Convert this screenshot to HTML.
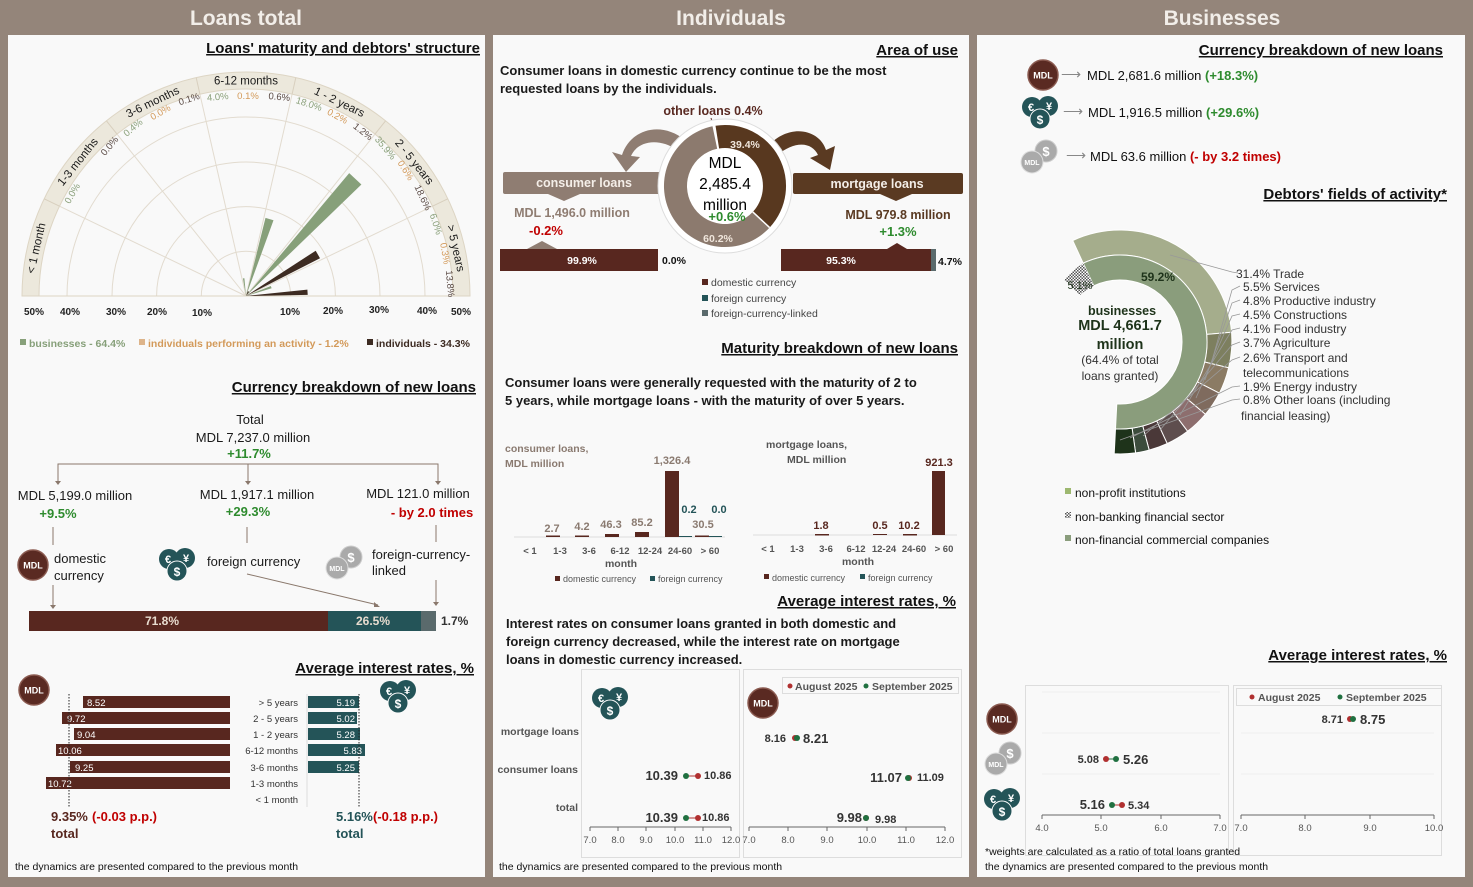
<!DOCTYPE html>
<html><head><meta charset="utf-8"><style>
html,body{margin:0;padding:0;background:#94857a;}
svg{display:block;font-family:"Liberation Sans",sans-serif;}
.t{font-weight:bold;fill:#1a1a1a;}
.ttl{font-weight:bold;font-size:15px;fill:#111;text-decoration:underline;}
.hd{font-weight:bold;font-size:21px;fill:#f2eee9;}
.g{fill:#2e8b2e;font-weight:bold;}
.r{fill:#c00000;font-weight:bold;}
</style></head><body>
<svg width="1473" height="887" viewBox="0 0 1473 887" xmlns="http://www.w3.org/2000/svg">
<defs>
<pattern id="hat" width="3" height="3" patternUnits="userSpaceOnUse"><rect width="3" height="3" fill="#fff"/><rect width="1.5" height="1.5" fill="#555"/><rect x="1.5" y="1.5" width="1.5" height="1.5" fill="#555"/></pattern>
<g id="mdl"><circle r="15" fill="#5a2a22" stroke="#8a5a50" stroke-width="1.5"/><text y="3.5" text-anchor="middle" font-size="9" font-weight="bold" fill="#fff">MDL</text></g>
<g id="fx"><circle cx="-8" cy="-4" r="10" fill="#245458"/><circle cx="8" cy="-5" r="10" fill="#245458"/><circle cx="0" cy="8" r="10" fill="#245458" stroke="#f9f9f9" stroke-width="1"/><text x="-9" y="0" text-anchor="middle" font-size="11" font-weight="bold" fill="#fff">€</text><text x="9" y="-1" text-anchor="middle" font-size="11" font-weight="bold" fill="#fff">¥</text><text x="0" y="13" text-anchor="middle" font-size="12" font-weight="bold" fill="#fff">$</text></g>
<g id="lnk"><circle cx="8" cy="-6" r="11" fill="#aaa" stroke="#ccc"/><text x="8" y="-1" text-anchor="middle" font-size="13" font-weight="bold" fill="#fff">$</text><circle cx="-6" cy="5" r="11" fill="#aaa" stroke="#ddd"/><text x="-6" y="8" text-anchor="middle" font-size="7" font-weight="bold" fill="#fff">MDL</text></g>
</defs>

<text class="hd" x="246" y="25" text-anchor="middle">Loans total</text>
<text class="hd" x="731" y="25" text-anchor="middle">Individuals</text>
<text class="hd" x="1222" y="25" text-anchor="middle">Businesses</text>

<rect x="8" y="35" width="477" height="842" fill="#f9f9f9"/>
<rect x="493" y="35" width="476" height="842" fill="#f9f9f9"/>
<rect x="977" y="35" width="488" height="842" fill="#f9f9f9"/>

<!-- ============ PANEL 1 ============ -->
<text class="ttl" x="480" y="53" text-anchor="end">Loans' maturity and debtors' structure</text>
<path d="M22,296 A224,224 0 0 1 470,296 L453,296 A207,207 0 0 0 39,296 Z" fill="#ece8dc" stroke="#ddd5c4"/>
<g fill="none" stroke="#e2dbcf" stroke-width="1">
<path d="M201.3,296 A44.7,44.7 0 0 1 290.7,296"/>
<path d="M156.6,296 A89.4,89.4 0 0 1 335.4,296"/>
<path d="M112,296 A134,134 0 0 1 380,296"/>
<path d="M67,296 A179,179 0 0 1 425,296"/>
<line x1="246" y1="296" x2="432.5" y2="206.2"/><line x1="246" y1="296" x2="375" y2="134.1"/>
<line x1="246" y1="296" x2="292.1" y2="94.2"/><line x1="246" y1="296" x2="199.9" y2="94.2"/>
<line x1="246" y1="296" x2="117" y2="134.1"/><line x1="246" y1="296" x2="59.5" y2="206.2"/>
<line x1="22" y1="296" x2="470" y2="296" stroke="#ddd5c4"/>
</g>
<g stroke="#d8cfbe" stroke-width="1">
<line x1="432.5" y1="206.2" x2="447.8" y2="198.8"/><line x1="375" y1="134.1" x2="385.6" y2="120.8"/>
<line x1="292.1" y1="94.2" x2="295.8" y2="77.6"/><line x1="199.9" y1="94.2" x2="196.2" y2="77.6"/>
<line x1="117" y1="134.1" x2="106.4" y2="120.8"/><line x1="59.5" y1="206.2" x2="44.2" y2="198.8"/>
</g>
<polygon points="246,296 271.6,288.2 270.8,286" fill="#87a07a"/>
<polygon points="246,296 307.7,294.9 307.4,289.6" fill="#3d2b22"/>
<polygon points="246,296 361.4,184.5 349.2,173.1" fill="#87a07a"/>
<polygon points="246,296 320,258.3 315.7,250.7" fill="#3d2b22"/>
<polygon points="246,296 273.5,220.3 265.5,217.9" fill="#87a07a"/>
<polygon points="246,296 249,292 248,291" fill="#3d2b22"/>
<polygon points="246,296 244.4,278.2 242.9,278.4" fill="#87a07a"/>
<g font-size="11.5" fill="#1a1a1a" text-anchor="middle">
<text transform="translate(35.9,248.1) rotate(-77.14)" y="4">&lt; 1 month</text>
<text transform="translate(77.5,161.7) rotate(-51.43)" y="4">1-3 months</text>
<text transform="translate(152.5,101.8) rotate(-25.71)" y="4">3-6 months</text>
<text transform="translate(246,80.5)" y="4">6-12 months</text>
<text transform="translate(339.5,101.8) rotate(25.71)" y="4">1 - 2 years</text>
<text transform="translate(414.5,161.7) rotate(51.43)" y="4">2 - 5 years</text>
<text transform="translate(456.1,248.1) rotate(77.14)" y="4">&gt; 5 years</text>
</g>
<g font-size="9.5" text-anchor="middle">
<text transform="translate(75,195) rotate(-60)" fill="#8aa07a">0.0%</text>
<text transform="translate(112,148) rotate(-50)" fill="#5a4a44">0.0%</text>
<text transform="translate(135,130) rotate(-40)" fill="#8aa07a">0.4%</text>
<text transform="translate(162,115) rotate(-30)" fill="#d39a5a">0.0%</text>
<text transform="translate(190,102) rotate(-18)" fill="#5a4a44">0.1%</text>
<text transform="translate(218,100) rotate(-5)" fill="#8aa07a">4.0%</text>
<text transform="translate(248,99)" fill="#d39a5a">0.1%</text>
<text transform="translate(279,100) rotate(5)" fill="#5a4a44">0.6%</text>
<text transform="translate(308,107) rotate(18)" fill="#8aa07a">18.0%</text>
<text transform="translate(336,119) rotate(28)" fill="#d39a5a">0.2%</text>
<text transform="translate(361,134) rotate(38)" fill="#5a4a44">1.2%</text>
<text transform="translate(383,150) rotate(50)" fill="#8aa07a">35.9%</text>
<text transform="translate(403,172) rotate(58)" fill="#d39a5a">0.6%</text>
<text transform="translate(420,199) rotate(65)" fill="#5a4a44">18.6%</text>
<text transform="translate(433,225) rotate(72)" fill="#8aa07a">6.0%</text>
<text transform="translate(442,254) rotate(80)" fill="#d39a5a">0.3%</text>
<text transform="translate(447,284) rotate(85)" fill="#5a4a44">13.8%</text>
</g>
<g font-size="10" font-weight="bold" fill="#222" text-anchor="middle">
<text x="34" y="315">50%</text><text x="70" y="315">40%</text><text x="116" y="315">30%</text><text x="157" y="315">20%</text><text x="202" y="316">10%</text>
<text x="290" y="315">10%</text><text x="333" y="314">20%</text><text x="379" y="313">30%</text><text x="427" y="314">40%</text><text x="461" y="315">50%</text>
</g>
<g font-size="10.5" font-weight="bold">
<rect x="20" y="339" width="6" height="6" fill="#87a07a"/><text x="29" y="347" fill="#87a07a">businesses - 64.4%</text>
<rect x="139" y="339" width="6" height="6" fill="#ddb48a"/><text x="148" y="347" fill="#d39a5a">individuals performing an activity - 1.2%</text>
<rect x="367" y="339" width="6" height="6" fill="#3d2b22"/><text x="376" y="347" fill="#3d2b22">individuals - 34.3%</text>
</g>

<text class="ttl" x="476" y="392" text-anchor="end">Currency breakdown of new loans</text>
<g font-size="13" text-anchor="middle" fill="#1a1a1a">
<text x="250" y="424">Total</text>
<text x="253" y="442">MDL 7,237.0 million</text>
<text x="249" y="458" class="g">+11.7%</text>
<text x="75" y="500">MDL 5,199.0 million</text>
<text x="58" y="518" class="g">+9.5%</text>
<text x="257" y="499">MDL 1,917.1 million</text>
<text x="248" y="516" class="g">+29.3%</text>
<text x="418" y="498">MDL 121.0 million</text>
<text x="432" y="517" class="r">- by 2.0 times</text>
</g>
<g stroke="#8a786c" stroke-width="1" fill="none">
<polyline points="58,483 58,464 438,464 438,483"/><line x1="248" y1="464" x2="248" y2="484"/>
<line x1="53" y1="527" x2="53" y2="545"/><line x1="247" y1="527" x2="247" y2="543"/><line x1="436" y1="525" x2="436" y2="542"/>
<line x1="53" y1="585" x2="53" y2="607"/><line x1="247" y1="574" x2="378" y2="605"/><line x1="436" y1="580" x2="436" y2="604"/>
</g>
<g fill="#8a786c"><path d="M55,481 L61,481 L58,485Z"/><path d="M245,481 L251,481 L248,485Z"/><path d="M435,481 L441,481 L438,485Z"/><path d="M50,605 L56,605 L53,609Z"/><path d="M374,602 L380,607 L374,607Z"/><path d="M433,602 L439,602 L436,606Z"/></g>
<use href="#mdl" x="33" y="565"/><use href="#fx" x="177" y="563"/><use href="#lnk" x="343" y="563"/>
<g font-size="13" fill="#1a1a1a">
<text x="54" y="563">domestic</text><text x="54" y="580">currency</text>
<text x="207" y="566">foreign currency</text>
<text x="372" y="559">foreign-currency-</text><text x="372" y="575">linked</text>
</g>
<rect x="29" y="611" width="299" height="20" fill="#58271f"/><rect x="328" y="611" width="93" height="20" fill="#245458"/><rect x="421" y="611" width="15" height="20" fill="#5a6a6c"/>
<g font-size="12" font-weight="bold"><text x="162" y="625" fill="#e8dccf" text-anchor="middle">71.8%</text><text x="373" y="625" fill="#e8dccf" text-anchor="middle">26.5%</text><text x="441" y="625" fill="#333">1.7%</text></g>

<text class="ttl" x="474" y="673" text-anchor="end">Average interest rates, %</text>
<use href="#mdl" x="34" y="690"/><use href="#fx" x="398" y="695"/>
<g fill="#58271f">
<rect x="83" y="696" width="147" height="12"/><rect x="62" y="712" width="168" height="12"/><rect x="74" y="728" width="156" height="12"/>
<rect x="56" y="744" width="174" height="12"/><rect x="70" y="761" width="160" height="12"/><rect x="46" y="777" width="184" height="12"/>
</g>
<g fill="#245458">
<rect x="308" y="696" width="51" height="12"/><rect x="308" y="712" width="49" height="12"/><rect x="308" y="728" width="52" height="12"/>
<rect x="308" y="744" width="57" height="12"/><rect x="308" y="761" width="51" height="12"/>
</g>
<g font-size="9.5" fill="#fff">
<text x="87" y="706">8.52</text><text x="67" y="722">9.72</text><text x="77" y="738">9.04</text><text x="58" y="754">10.06</text><text x="75" y="771">9.25</text><text x="48" y="787">10.72</text>
<g text-anchor="end"><text x="355" y="706">5.19</text><text x="355" y="722">5.02</text><text x="355" y="738">5.28</text><text x="362" y="754">5.83</text><text x="355" y="771">5.25</text></g>
</g>
<line x1="69" y1="694" x2="69" y2="807" stroke="#222" stroke-dasharray="1.5,1.5"/>
<line x1="359" y1="694" x2="359" y2="807" stroke="#222" stroke-dasharray="1.5,1.5"/>
<line x1="307" y1="694" x2="307" y2="807" stroke="#ddd"/>
<g font-size="9.5" fill="#333" text-anchor="end">
<text x="298" y="706">&gt; 5 years</text><text x="298" y="722">2 - 5 years</text><text x="298" y="738">1 - 2 years</text><text x="298" y="754">6-12 months</text><text x="298" y="771">3-6 months</text><text x="298" y="787">1-3 months</text><text x="298" y="803">&lt; 1 month</text>
</g>
<g font-size="13" font-weight="bold">
<text x="51" y="821" fill="#58271f">9.35%</text><text x="92" y="821" class="r">(-0.03 p.p.)</text><text x="51" y="838" fill="#58271f">total</text>
<text x="336" y="821" fill="#245458">5.16%</text><text x="373" y="821" class="r">(-0.18 p.p.)</text><text x="336" y="838" fill="#245458">total</text>
</g>
<text x="15" y="870" font-size="10.5" fill="#111">the dynamics are presented compared to the previous month</text>

<!-- ============ PANEL 2 ============ -->
<text class="ttl" x="958" y="55" text-anchor="end">Area of use</text>
<text x="500" y="75" font-size="13" class="t">Consumer loans in domestic currency continue to be the most</text>
<text x="500" y="93" font-size="13" class="t">requested loans by the individuals.</text>
<text x="713" y="115" font-size="12.5" font-weight="bold" fill="#5a2a22" text-anchor="middle">other loans 0.4%</text>
<line x1="711" y1="118" x2="714" y2="128" stroke="#5a2a22"/>
<path d="M685,140 C660,120 630,130 622,155 L612,152 L626,172 L640,157 L631,156 C638,140 660,138 677,150Z" fill="#8f7d72"/>
<path d="M768,146 C790,122 820,130 826,150 L835,146 L830,170 L810,158 L818,155 C812,142 795,140 776,156Z" fill="#5a3a22"/>
<rect x="503" y="172" width="157" height="22" rx="2" fill="#8f7d72"/><path d="M548,194 L580,194 L564,201Z" fill="#8f7d72"/>
<rect x="793" y="173" width="170" height="21" rx="2" fill="#5a3a22"/><path d="M880,194 L912,194 L896,201Z" fill="#5a3a22"/>
<text x="584" y="187" text-anchor="middle" font-size="12.5" font-weight="bold" fill="#f4eee8">consumer loans</text>
<text x="877" y="188" text-anchor="middle" font-size="12.5" font-weight="bold" fill="#f4eee8">mortgage loans</text>
<circle cx="725" cy="186" r="67" fill="#fff" stroke="#ddd"/>
<path d="M715.5,125.7 A61,61 0 0 1 769.6,227.6 L752.8,211.9 A38,38 0 0 0 719.1,148.5 Z" fill="#58381f"/>
<path d="M769.6,227.6 A61,61 0 1 1 712.5,126.3 L717.2,148.8 A38,38 0 1 0 752.8,211.9 Z" fill="#8c7a6e"/>
<line x1="769.6" y1="227.6" x2="752.8" y2="211.9" stroke="#fff" stroke-width="1.5"/>
<text x="745" y="148" font-size="10.5" fill="#f0e6dc" font-weight="bold" text-anchor="middle">39.4%</text>
<text x="718" y="242" font-size="10.5" fill="#f0e6dc" font-weight="bold" text-anchor="middle">60.2%</text>
<g text-anchor="middle" font-size="15.5" fill="#000">
<text x="725" y="168">MDL</text><text x="725" y="189">2,485.4</text><text x="725" y="210">million</text>
</g>
<text x="727" y="221" text-anchor="middle" font-size="13" class="g">+0.6%</text>
<text x="572" y="217" text-anchor="middle" font-size="12.5" font-weight="bold" fill="#8f7d72">MDL 1,496.0 million</text>
<text x="546" y="235" text-anchor="middle" font-size="13" class="r">-0.2%</text>
<text x="898" y="219" text-anchor="middle" font-size="12.5" font-weight="bold" fill="#5a3a22">MDL 979.8 million</text>
<text x="898" y="236" text-anchor="middle" font-size="13" class="g">+1.3%</text>
<path d="M527,249 L542,241 L557,249Z" fill="#8f7d72"/><path d="M887,249 L897,243 L907,249Z" fill="#58271f"/>
<rect x="500" y="249" width="158" height="22" fill="#58271f"/>
<rect x="781" y="249" width="150" height="22" fill="#58271f"/><rect x="931" y="249" width="5" height="22" fill="#5a6a6c"/>
<g font-size="10.5" font-weight="bold"><text x="582" y="264" fill="#fff" text-anchor="middle">99.9%</text><text x="662" y="264" fill="#111">0.0%</text><text x="841" y="264" fill="#fff" text-anchor="middle">95.3%</text><text x="938" y="265" fill="#111">4.7%</text></g>
<g font-size="10.5" fill="#444">
<rect x="702" y="279" width="6" height="6" fill="#58271f"/><text x="711" y="286">domestic currency</text>
<rect x="702" y="295" width="6" height="6" fill="#245458"/><text x="711" y="302">foreign currency</text>
<rect x="702" y="310" width="6" height="6" fill="#5a6a6c"/><text x="711" y="317">foreign-currency-linked</text>
</g>

<text class="ttl" x="958" y="353" text-anchor="end">Maturity breakdown of new loans</text>
<text x="505" y="387" font-size="13" class="t">Consumer loans were generally requested with the maturity of 2 to</text>
<text x="505" y="405" font-size="13" class="t">5 years, while mortgage loans - with the maturity of over 5 years.</text>
<text x="505" y="452" font-size="10.5" font-weight="bold" fill="#8a7a70">consumer loans,</text>
<text x="505" y="467" font-size="10.5" font-weight="bold" fill="#8a7a70">MDL million</text>
<line x1="514" y1="537" x2="725" y2="537" stroke="#ddd"/>
<g fill="#58271f">
<rect x="546" y="535.5" width="14" height="1.5"/><rect x="575" y="535.5" width="14" height="1.5"/><rect x="605" y="534" width="14" height="3"/><rect x="635" y="532" width="14" height="5"/><rect x="665" y="471" width="14" height="66"/><rect x="695" y="535.5" width="14" height="1.5"/>
</g>
<rect x="679" y="536" width="13" height="1" fill="#245458"/><rect x="709" y="536" width="13" height="1" fill="#245458"/>
<g font-size="11" font-weight="bold" fill="#8a7a70" text-anchor="middle">
<text x="552" y="532">2.7</text><text x="582" y="530">4.2</text><text x="611" y="528">46.3</text><text x="642" y="526">85.2</text><text x="672" y="464">1,326.4</text><text x="703" y="528">30.5</text>
<text x="689" y="513" fill="#245458">0.2</text><text x="719" y="513" fill="#245458">0.0</text>
</g>
<g font-size="9.5" fill="#555" text-anchor="middle" font-weight="bold">
<text x="530" y="554">&lt; 1</text><text x="560" y="554">1-3</text><text x="589" y="554">3-6</text><text x="620" y="554">6-12</text><text x="650" y="554">12-24</text><text x="680" y="554">24-60</text><text x="710" y="554">&gt; 60</text>
<text x="621" y="567" font-size="10.5">month</text>
</g>
<g font-size="9" fill="#555"><rect x="555" y="576" width="5" height="5" fill="#58271f"/><text x="563" y="582">domestic currency</text><rect x="650" y="576" width="5" height="5" fill="#245458"/><text x="658" y="582">foreign currency</text></g>
<text x="766" y="448" font-size="10.5" font-weight="bold" fill="#555">mortgage loans,</text>
<text x="787" y="463" font-size="10.5" font-weight="bold" fill="#555">MDL million</text>
<line x1="753" y1="535" x2="957" y2="535" stroke="#ddd"/>
<g fill="#58271f"><rect x="815" y="534" width="14" height="1.5"/><rect x="873" y="534" width="14" height="1"/><rect x="903" y="534" width="14" height="1.5"/><rect x="932" y="471" width="13" height="64"/></g>
<g font-size="11" font-weight="bold" fill="#58271f" text-anchor="middle"><text x="821" y="529">1.8</text><text x="880" y="529">0.5</text><text x="909" y="529">10.2</text><text x="939" y="466">921.3</text></g>
<g font-size="9.5" fill="#555" text-anchor="middle" font-weight="bold">
<text x="768" y="552">&lt; 1</text><text x="797" y="552">1-3</text><text x="826" y="552">3-6</text><text x="856" y="552">6-12</text><text x="884" y="552">12-24</text><text x="914" y="552">24-60</text><text x="944" y="552">&gt; 60</text>
<text x="858" y="565" font-size="10.5">month</text>
</g>
<g font-size="9" fill="#555"><rect x="764" y="574" width="5" height="5" fill="#58271f"/><text x="772" y="581">domestic currency</text><rect x="860" y="574" width="5" height="5" fill="#245458"/><text x="868" y="581">foreign currency</text></g>

<text class="ttl" x="956" y="606" text-anchor="end">Average interest rates, %</text>
<text x="506" y="628" font-size="13" class="t">Interest rates on consumer loans granted in both domestic and</text>
<text x="506" y="646" font-size="13" class="t">foreign currency decreased, while the interest rate on mortgage</text>
<text x="506" y="664" font-size="13" class="t">loans in domestic currency increased.</text>
<rect x="581.5" y="669.5" width="158" height="188" fill="none" stroke="#ddd"/>
<rect x="743.5" y="669.5" width="218" height="188" fill="none" stroke="#ddd"/>
<use href="#fx" x="610" y="702"/><use href="#mdl" x="763" y="703"/>
<rect x="782.5" y="677.5" width="176" height="16" fill="none" stroke="#ddd"/>
<circle cx="790" cy="686" r="2.5" fill="#b03030"/><text x="795" y="690" font-size="10.5" font-weight="bold" fill="#555">August 2025</text>
<circle cx="866" cy="686" r="2.5" fill="#207040"/><text x="872" y="690" font-size="10.5" font-weight="bold" fill="#555">September 2025</text>
<g font-size="10.5" fill="#555" font-weight="bold" text-anchor="end"><text x="579" y="735">mortgage loans</text><text x="578" y="773">consumer loans</text><text x="578" y="811">total</text></g>
<g stroke="#666"><line x1="590" y1="827" x2="731" y2="827"/><line x1="749" y1="827" x2="945" y2="827"/>
<line x1="590" y1="827" x2="590" y2="831"/><line x1="618" y1="827" x2="618" y2="831"/><line x1="646" y1="827" x2="646" y2="831"/><line x1="675" y1="827" x2="675" y2="831"/><line x1="703" y1="827" x2="703" y2="831"/><line x1="731" y1="827" x2="731" y2="831"/>
<line x1="749" y1="827" x2="749" y2="831"/><line x1="788" y1="827" x2="788" y2="831"/><line x1="827" y1="827" x2="827" y2="831"/><line x1="867" y1="827" x2="867" y2="831"/><line x1="906" y1="827" x2="906" y2="831"/><line x1="945" y1="827" x2="945" y2="831"/></g>
<g font-size="9.5" fill="#555" text-anchor="middle"><text x="590" y="843">7.0</text><text x="618" y="843">8.0</text><text x="646" y="843">9.0</text><text x="675" y="843">10.0</text><text x="703" y="843">11.0</text><text x="731" y="843">12.0</text>
<text x="749" y="843">7.0</text><text x="788" y="843">8.0</text><text x="827" y="843">9.0</text><text x="867" y="843">10.0</text><text x="906" y="843">11.0</text><text x="945" y="843">12.0</text></g>
<g stroke="#b03030" stroke-width="1"><line x1="686" y1="776" x2="698" y2="776"/><line x1="686" y1="818" x2="698" y2="818"/></g>
<circle cx="698" cy="776" r="3" fill="#b03030"/><circle cx="686" cy="776" r="3" fill="#207040"/>
<circle cx="698" cy="818" r="3" fill="#b03030"/><circle cx="686" cy="818" r="3" fill="#207040"/>
<circle cx="795" cy="738" r="3" fill="#b03030"/><circle cx="797" cy="738" r="3" fill="#207040"/>
<circle cx="909" cy="778" r="3" fill="#b03030"/><circle cx="908" cy="778" r="3" fill="#207040"/>
<circle cx="866" cy="818" r="3" fill="#b03030"/><circle cx="866" cy="818" r="3" fill="#207040"/>
<g font-weight="bold" fill="#333">
<text x="678" y="780" font-size="13" text-anchor="end">10.39</text><text x="704" y="779" font-size="11">10.86</text>
<text x="678" y="822" font-size="13" text-anchor="end">10.39</text><text x="702" y="821" font-size="11">10.86</text>
<text x="786" y="742" font-size="11" text-anchor="end">8.16</text><text x="803" y="743" font-size="13">8.21</text>
<text x="902" y="782" font-size="13" text-anchor="end">11.07</text><text x="917" y="781" font-size="11">11.09</text>
<text x="862" y="822" font-size="13" text-anchor="end">9.98</text><text x="875" y="823" font-size="11">9.98</text>
</g>
<text x="499" y="870" font-size="10.5" fill="#111">the dynamics are presented compared to the previous month</text>

<!-- ============ PANEL 3 ============ -->
<text class="ttl" x="1443" y="55" text-anchor="end">Currency breakdown of new loans</text>
<use href="#mdl" x="1043" y="75"/><use href="#fx" x="1040" y="111"/><use href="#lnk" x="1038" y="157"/>
<g font-size="14" fill="#888"><text x="1061" y="79">⟶</text><text x="1063" y="116">⟶</text><text x="1066" y="160">⟶</text></g>
<g font-size="13" fill="#111">
<text x="1087" y="80">MDL 2,681.6 million <tspan class="g">(+18.3%)</tspan></text>
<text x="1088" y="117">MDL 1,916.5 million <tspan class="g">(+29.6%)</tspan></text>
<text x="1090" y="161">MDL 63.6 million <tspan class="r">(- by 3.2 times)</tspan></text>
</g>
<text class="ttl" x="1447" y="199" text-anchor="end">Debtors' fields of activity*</text>
<path d="M1072.7,240.5 A112,112 0 0 1 1231.6,332.2 L1206.7,334.4 A87,87 0 0 0 1083.2,263.2Z" fill="#a5ad8c" stroke="#fff"/>
<path d="M1231.6,332.2 A112,112 0 0 1 1228.6,367.8 L1204.5,362 A87,87 0 0 0 1206.7,334.4Z" fill="#7d7f5f" stroke="#fff"/>
<path d="M1228.6,367.8 A112,112 0 0 1 1219.4,393.2 L1197.2,381.8 A87,87 0 0 0 1204.5,362Z" fill="#8b7b64" stroke="#fff"/>
<path d="M1219.4,393.2 A112,112 0 0 1 1205.4,414.3 L1186.3,398.2 A87,87 0 0 0 1197.2,381.8Z" fill="#7f6b5e" stroke="#fff"/>
<path d="M1205.4,414.3 A112,112 0 0 1 1187.6,431.3 L1172.5,411.3 A87,87 0 0 0 1186.3,398.2Z" fill="#8d6e6e" stroke="#fff"/>
<path d="M1187.6,431.3 A112,112 0 0 1 1167.2,443.6 L1156.7,420.9 A87,87 0 0 0 1172.5,411.3Z" fill="#5e4e4e" stroke="#fff"/>
<path d="M1167.2,443.6 A112,112 0 0 1 1149.2,450.1 L1142.7,425.9 A87,87 0 0 0 1156.7,420.9Z" fill="#4a3838" stroke="#fff"/>
<path d="M1149.2,450.1 A112,112 0 0 1 1135.6,452.9 L1132.1,428.2 A87,87 0 0 0 1142.7,425.9Z" fill="#3c4c3c" stroke="#fff"/>
<path d="M1135.6,452.9 A112,112 0 0 1 1114.2,453.8 L1115.5,428.9 A87,87 0 0 0 1132.1,428.2Z" fill="#1e331a" stroke="#fff"/>
<path d="M1083.2,263.2 A87,87 0 1 1 1115.5,428.9 L1116.8,403.9 A62,62 0 1 0 1093.8,285.8Z" fill="#8a9d7c" stroke="#fff"/>
<path d="M1083.2,263.2 L1093.8,285.8 A62,62 0 0 0 1080,295 L1064,280 A87,87 0 0 1 1083.2,263.2Z" fill="url(#hat)"/>
<text x="1080" y="289" font-size="11" fill="#1e331a" text-anchor="middle">5.1%</text>
<text x="1158" y="281" font-size="12" font-weight="bold" fill="#1e331a" text-anchor="middle">59.2%</text>
<g text-anchor="middle" fill="#1e331a">
<text x="1122" y="315" font-size="12.5" font-weight="bold">businesses</text>
<text x="1120" y="330" font-size="14.5" font-weight="bold">MDL 4,661.7</text>
<text x="1120" y="349" font-size="14.5" font-weight="bold">million</text>
<text x="1120" y="364" font-size="12" fill="#333">(64.4% of total</text>
<text x="1120" y="380" font-size="12" fill="#333">loans granted)</text>
</g>
<g stroke="#999" stroke-width="0.8" fill="none">
<polyline points="1170,255 1232,272 1238,273"/>
<polyline points="1213,357 1232,290 1240,286"/><polyline points="1205,380 1232,303 1240,300"/>
<polyline points="1196,398 1232,316 1240,314"/><polyline points="1180,415 1232,330 1240,328"/>
<polyline points="1160,430 1232,345 1240,342"/><polyline points="1143,436 1232,360 1240,357"/>
<polyline points="1130,438 1232,387 1240,386"/><polyline points="1120,440 1232,400 1240,399"/>
</g>
<g font-size="12" fill="#333">
<text x="1236" y="278">31.4%   Trade</text>
<text x="1243" y="291">5.5%   Services</text>
<text x="1243" y="305">4.8%   Productive industry</text>
<text x="1243" y="319">4.5%   Constructions</text>
<text x="1243" y="333">4.1%   Food industry</text>
<text x="1243" y="347">3.7%   Agriculture</text>
<text x="1243" y="362">2.6%   Transport and</text>
<text x="1243" y="377">telecommunications</text>
<text x="1243" y="391">1.9%   Energy industry</text>
<text x="1243" y="404">0.8%   Other loans (including</text>
<text x="1241" y="420">financial leasing)</text>
</g>
<g font-size="12" fill="#111">
<rect x="1065" y="488" width="6" height="6" fill="#9db870"/><text x="1075" y="497">non-profit institutions</text>
<rect x="1065" y="512" width="6" height="6" fill="url(#hat)"/><text x="1075" y="521">non-banking financial sector</text>
<rect x="1065" y="535" width="6" height="6" fill="#8a9d7c"/><text x="1075" y="544">non-financial commercial companies</text>
</g>

<text class="ttl" x="1447" y="660" text-anchor="end">Average interest rates, %</text>
<rect x="1025.5" y="685.5" width="203" height="170" fill="none" stroke="#ddd"/>
<rect x="1233.5" y="685.5" width="208" height="170" fill="none" stroke="#ddd"/>
<g stroke="#eee"><line x1="1042" y1="692" x2="1220" y2="692"/><line x1="1042" y1="733" x2="1220" y2="733"/><line x1="1042" y1="774" x2="1220" y2="774"/><line x1="1241" y1="733" x2="1434" y2="733"/><line x1="1241" y1="774" x2="1434" y2="774"/></g>
<use href="#mdl" x="1002" y="719"/><use href="#lnk" x="1002" y="759"/><use href="#fx" x="1002" y="803"/>
<rect x="1236.5" y="688.5" width="205" height="17" fill="none" stroke="#ddd"/>
<circle cx="1252" cy="697" r="2.5" fill="#b03030"/><text x="1258" y="701" font-size="10.5" font-weight="bold" fill="#555">August 2025</text>
<circle cx="1340" cy="697" r="2.5" fill="#207040"/><text x="1346" y="701" font-size="10.5" font-weight="bold" fill="#555">September 2025</text>
<g stroke="#666"><line x1="1042" y1="815" x2="1220" y2="815"/><line x1="1241" y1="815" x2="1434" y2="815"/>
<line x1="1042" y1="815" x2="1042" y2="819"/><line x1="1101" y1="815" x2="1101" y2="819"/><line x1="1161" y1="815" x2="1161" y2="819"/><line x1="1220" y1="815" x2="1220" y2="819"/>
<line x1="1241" y1="815" x2="1241" y2="819"/><line x1="1305" y1="815" x2="1305" y2="819"/><line x1="1370" y1="815" x2="1370" y2="819"/><line x1="1434" y1="815" x2="1434" y2="819"/></g>
<g font-size="9.5" fill="#555" text-anchor="middle"><text x="1042" y="831">4.0</text><text x="1101" y="831">5.0</text><text x="1161" y="831">6.0</text><text x="1220" y="831">7.0</text>
<text x="1241" y="831">7.0</text><text x="1305" y="831">8.0</text><text x="1370" y="831">9.0</text><text x="1434" y="831">10.0</text></g>
<line x1="1106" y1="759" x2="1116" y2="759" stroke="#207040"/><line x1="1112" y1="805" x2="1122" y2="805" stroke="#b03030"/>
<circle cx="1106" cy="759" r="3" fill="#b03030"/><circle cx="1116" cy="759" r="3" fill="#207040"/>
<circle cx="1122" cy="805" r="3" fill="#b03030"/><circle cx="1112" cy="805" r="3" fill="#207040"/>
<circle cx="1350" cy="719" r="3" fill="#b03030"/><circle cx="1353" cy="719" r="3" fill="#207040"/>
<g font-weight="bold" fill="#333">
<text x="1099" y="763" font-size="11" text-anchor="end">5.08</text><text x="1123" y="764" font-size="13">5.26</text>
<text x="1105" y="809" font-size="13" text-anchor="end">5.16</text><text x="1128" y="809" font-size="11">5.34</text>
<text x="1343" y="723" font-size="11" text-anchor="end">8.71</text><text x="1360" y="724" font-size="13">8.75</text>
</g>
<text x="985" y="855" font-size="10.5" fill="#111">*weights are calculated as a ratio of total loans granted</text>
<text x="985" y="870" font-size="10.5" fill="#111">the dynamics are presented compared to the previous month</text>
</svg>
</body></html>
